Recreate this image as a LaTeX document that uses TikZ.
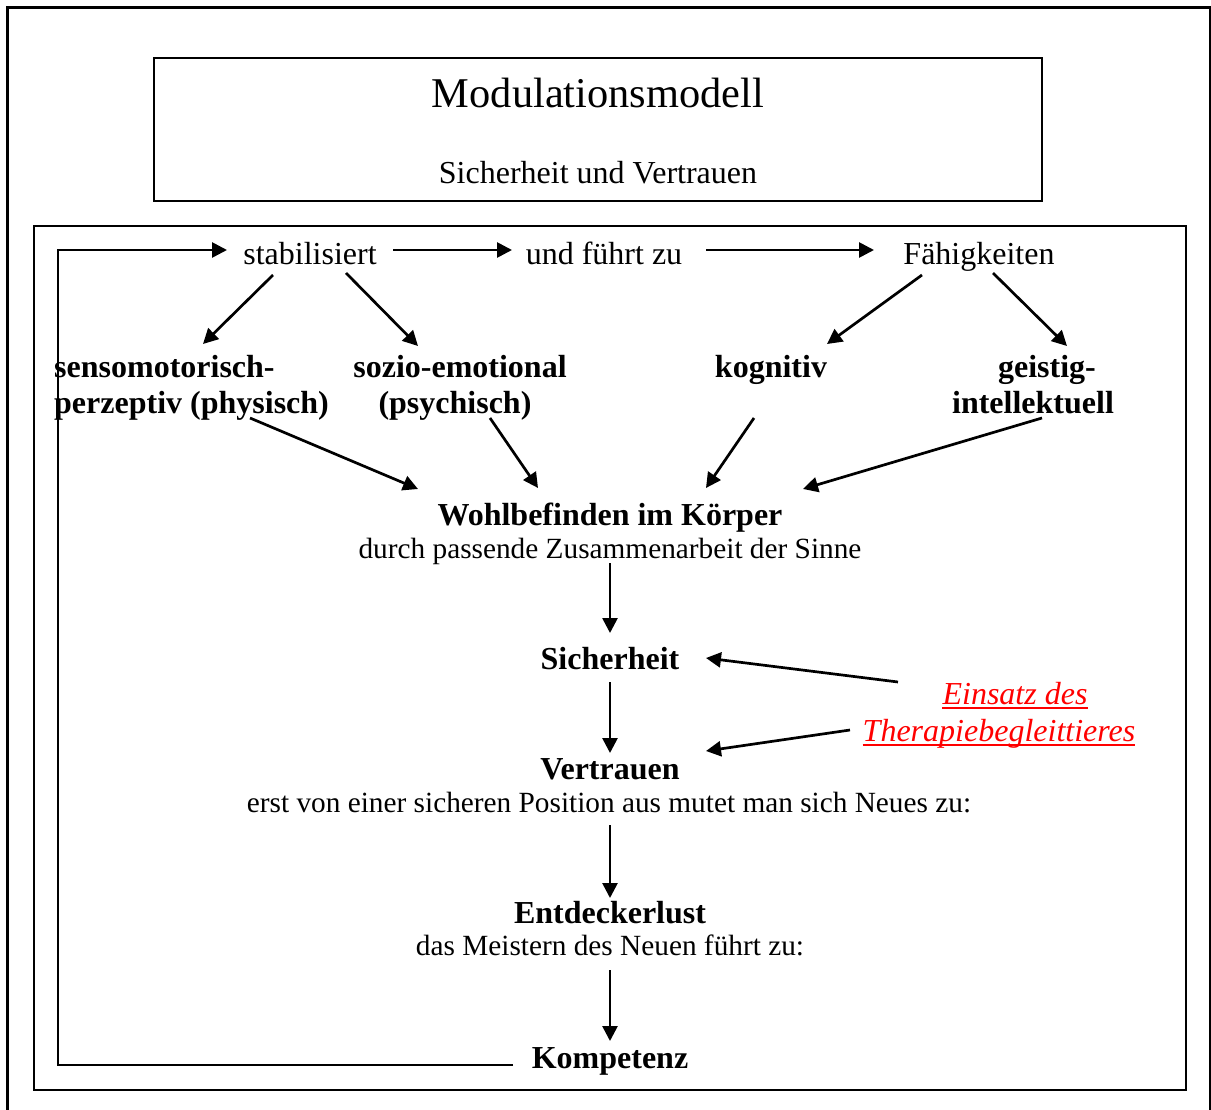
\documentclass[tikz,border=0pt]{standalone}
\usepackage{fontspec}
\setmainfont{Liberation Serif}
\usetikzlibrary{arrows.meta}
\begin{document}
\begin{tikzpicture}[x=1pt,y=-1pt,
  txt/.style={inner sep=0pt, anchor=base, font=\fontsize{32}{36}\selectfont},
  stxt/.style={inner sep=0pt, anchor=base, font=\fontsize{29.3}{34}\selectfont},
  btxt/.style={inner sep=0pt, anchor=base, font=\fontsize{32}{36}\selectfont\bfseries},
  rtxt/.style={inner sep=0pt, anchor=base, text=red, font=\fontsize{32}{36}\selectfont\itshape},
  arr/.style={line width=2.7pt, -{Triangle[length=15pt,width=15pt]}},
  box/.style={line width=2pt}]
\useasboundingbox (0,0) rectangle (1211,1110);
% outer frame
\draw[line width=3.8pt] (7.5,1115) -- (7.5,7.5) -- (1211,7.5);
\draw[line width=2pt] (1210,6) -- (1210,1115);
% title box
\draw[box] (154,58) rectangle (1042,201);
\node[inner sep=0pt, anchor=base, font=\fontsize{42.4}{47}\selectfont] (title) at (598,108) {Modulationsmodell};
\node[txt] (sub) at (598,184) {Sicherheit und Vertrauen};
% main box
\draw[box] (34,226) rectangle (1186,1090);
% top row
\node[txt] (stab) at (310,265) {stabilisiert};
\node[txt] (fuehrt) at (604,265) {und führt zu};
\node[txt] (faeh) at (979,265) {Fähigkeiten};
% second row
\node[btxt, anchor=base west] (sens1) at (54,377) {sensomotorisch-};
\node[btxt, anchor=base west] (sens2) at (54,413) {perzeptiv (physisch)};
\node[btxt] (sozio1) at (460,377) {sozio-emotional};
\node[btxt] (sozio2) at (455,413) {(psychisch)};
\node[btxt] (kog) at (771,377) {kognitiv};
\node[btxt] (geist1) at (1047,377) {geistig-};
\node[btxt] (geist2) at (1033,413) {intellektuell};
% central column
\node[btxt] (wohl) at (610,525) {Wohlbefinden im Körper};
\node[stxt] (wohl2) at (610,558) {durch passende Zusammenarbeit der Sinne};
\node[btxt] (sich) at (610,669) {Sicherheit};
\node[btxt] (vert) at (610,779) {Vertrauen};
\node[stxt] (vert2) at (609,812) {erst von einer sicheren Position aus mutet man sich Neues zu:};
\node[btxt] (entd) at (610,923) {Entdeckerlust};
\node[stxt] (entd2) at (610,955) {das Meistern des Neuen führt zu:};
\node[btxt] (komp) at (610,1068) {Kompetenz};
% red text
\node[rtxt] (ein1) at (1015,704) {Einsatz des};
\node[rtxt] (ein2) at (999,741) {Therapiebegleittieres};
\draw[red, line width=2.3pt] ([yshift=-4pt]ein1.base west) -- ([yshift=-4pt]ein1.base east);
\draw[red, line width=2.3pt] ([yshift=-4pt]ein2.base west) -- ([yshift=-4pt]ein2.base east);
% coordinates for arrows
\coordinate (l0) at (513,1065);
\coordinate (l1) at (58,1065);
\coordinate (l2) at (58,250);
\coordinate (l3) at (227,250);
\coordinate (s1) at (393,250);
\coordinate (s2) at (512,250);
\coordinate (f1) at (706,250);
\coordinate (f2) at (874,250);
\coordinate (a1) at (273,275);
\coordinate (a2) at (203,344);
\coordinate (b1) at (346,273);
\coordinate (b2) at (418,346);
\coordinate (c1) at (922,275);
\coordinate (c2) at (827,344);
\coordinate (d1) at (993,273);
\coordinate (d2) at (1067,346);
\coordinate (e1) at (250,418);
\coordinate (e2) at (418,489);
\coordinate (g1) at (490,418);
\coordinate (g2) at (538,488);
\coordinate (h1) at (754,418);
\coordinate (h2) at (706,488);
\coordinate (k1) at (1042,418);
\coordinate (k2) at (803,489);
\coordinate (m1) at (610,563);
\coordinate (m2) at (610,633);
\coordinate (n1) at (610,682);
\coordinate (n2) at (610,753);
\coordinate (o1) at (610,825);
\coordinate (o2) at (610,898);
\coordinate (p1) at (610,970);
\coordinate (p2) at (610,1041);
\coordinate (r1) at (898,682);
\coordinate (r2) at (706,658);
\coordinate (q1) at (850,730);
\coordinate (q2) at (706,751);
% arrows
\draw[arr] (l0) -- (l1) -- (l2) -- (l3);
\draw[arr] (s1) -- (s2);
\draw[arr] (f1) -- (f2);
\draw[arr] (a1) -- (a2);
\draw[arr] (b1) -- (b2);
\draw[arr] (c1) -- (c2);
\draw[arr] (d1) -- (d2);
\draw[arr] (e1) -- (e2);
\draw[arr] (g1) -- (g2);
\draw[arr] (h1) -- (h2);
\draw[arr] (k1) -- (k2);
\draw[arr] (m1) -- (m2);
\draw[arr] (n1) -- (n2);
\draw[arr] (o1) -- (o2);
\draw[arr] (p1) -- (p2);
\draw[arr] (r1) -- (r2);
\draw[arr] (q1) -- (q2);
\end{tikzpicture}
\end{document}
